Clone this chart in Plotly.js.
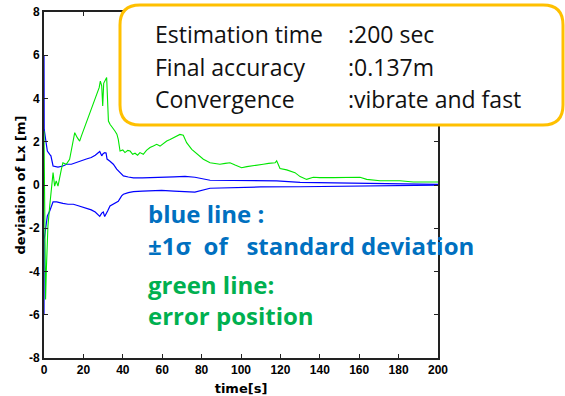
<!DOCTYPE html>
<html>
<head>
<meta charset="utf-8">
<script src="https://cdn.plot.ly/plotly-3.0.1.min.js"></script>
<style>html,body{margin:0;padding:0;background:#fff;}#chart{width:565px;height:396px;}</style>
</head>
<body>
<div id="chart"></div>
<script>
// ---- data ----
const errTime = [0, 0.4, 0.8, 1.2, 2.0, 2.9, 3.7, 4.6, 5.4, 6.2, 7.1, 8.0, 8.8, 9.6, 11.3, 13.0, 13.9, 15.6, 16.9, 18.1, 19.0, 21.5, 24, 26, 28, 28.6, 29.3, 29.8, 30.3, 31.8, 32.7, 33.5, 34.5, 36, 37.0, 37.7, 38.6, 40, 41.1, 42.5, 43.7, 45, 46.2, 47.5, 48.7, 50.4, 52, 53.8, 55.5, 57.2, 58.9, 60.5, 62.3, 64, 65.5, 67.3, 69, 70.7, 72.4, 75, 77, 79.2, 80.9, 84.3, 87, 89.3, 92, 94.4, 97, 100.3, 103, 106.2, 109, 111.3, 114, 117.3, 118.1, 119.8, 123.2, 127.4, 130, 133.3, 136.7, 140, 146.8, 155, 160.4, 163.8, 170.6, 180.7, 187.5, 200];
const errPos  = [2.5, -1.0, -5.3, -3.9, -1.9, -0.97, -0.05, 0.57, -0.05, 0.19, -0.05, 0.42, 0.72, 1.03, 0.96, 1.19, 1.65, 2.42, 2.19, 2.03, 2.27, 2.9, 3.5, 4.0, 4.5, 4.8, 4.58, 3.65, 4.7, 4.97, 2.96, 2.81, 2.7, 2.5, 2.35, 2.11, 1.57, 1.62, 1.5, 1.6, 1.57, 1.42, 1.47, 1.38, 1.5, 1.42, 1.6, 1.73, 1.8, 1.88, 1.8, 1.92, 2.03, 2.1, 2.18, 2.27, 2.34, 2.3, 1.96, 1.65, 1.5, 1.34, 1.19, 1.03, 0.98, 0.96, 1.0, 1.03, 0.92, 0.8, 0.85, 0.88, 0.92, 0.96, 1.0, 1.03, 1.12, 0.76, 0.7, 0.57, 0.39, 0.26, 0.36, 0.34, 0.34, 0.35, 0.36, 0.26, 0.2, 0.2, 0.14, 0.14];

const upTime  = [0, 0.1, 1.0, 1.7, 2.9, 3.5, 4.6, 5.5, 7.1, 9.6, 11.5, 13.9, 16.5, 19, 21.5, 24, 26, 28.3, 29.3, 30.0, 30.8, 31.5, 32.0, 33.5, 35.2, 36.9, 37.7, 39.4, 40.3, 42.8, 45.4, 50, 55, 59.7, 62, 66, 71.6, 76.6, 84.3, 95, 110, 118.1, 130, 140, 150, 163.8, 175, 190, 200];
const sigmaUp = [6.0, 2.57, 2.0, 1.57, 1.42, 1.35, 0.88, 0.85, 0.83, 0.88, 0.96, 0.96, 1.05, 1.11, 1.2, 1.27, 1.38, 1.55, 1.35, 1.45, 1.5, 1.48, 1.2, 1.1, 0.96, 0.73, 0.65, 0.49, 0.42, 0.37, 0.33, 0.33, 0.34, 0.34, 0.37, 0.38, 0.4, 0.36, 0.22, 0.2, 0.19, 0.19, 0.12, 0.11, 0.09, 0.06, 0.05, 0.04, 0.03];

const loTime  = [0, 0.1, 1.0, 1.7, 2.9, 3.9, 4.6, 6.4, 7.1, 9.6, 12.2, 14.9, 17, 19, 21.5, 24, 26, 28.3, 29.3, 30.1, 30.8, 31.5, 32.3, 33.5, 35.2, 36, 37.7, 39.4, 40.3, 42.8, 45.4, 50, 59.7, 66, 71.6, 76.6, 84.3, 95, 110, 130, 140, 163.8, 180, 200];
const sigmaLo = [-6.0, -2.5, -1.9, -1.43, -1.2, -0.95, -0.78, -0.78, -0.8, -0.85, -0.89, -0.89, -0.95, -1.01, -1.08, -1.15, -1.25, -1.45, -1.3, -1.25, -1.46, -1.36, -1.2, -0.97, -0.89, -0.83, -0.75, -0.5, -0.43, -0.35, -0.31, -0.28, -0.25, -0.28, -0.3, -0.33, -0.15, -0.12, -0.09, -0.08, -0.07, -0.05, -0.03, -0.01];

const xTicks = [0, 20, 40, 60, 80, 100, 120, 140, 160, 180, 200];
const yTicks = [-8, -6, -4, -2, 0, 2, 4, 6, 8];

const infoLabels = ["Estimation time", "Final accuracy", "Convergence"];
const infoValues = [":200 sec", ":0.137m", ":vibrate and fast"];
const noteLines = ["blue line :", "\u00b11\u03c3  of   standard deviation", "green line:", "error position"];
const noteColors = ["#0070C0", "#0070C0", "#00B050", "#00B050"];

// ---- layout helpers (pixel -> paper) ----
const W = 565, H = 396, ML = 44, MR = 127, MT = 12, MB = 38;
const PW = W - ML - MR, PH = H - MT - MB;
const px = x => (x - ML) / PW;
const py = y => (H - MB - y) / PH;

const traces = [
  {x: upTime, y: sigmaUp, mode: 'lines', line: {color: '#0000ff', width: 1.2}, hoverinfo: 'skip'},
  {x: loTime, y: sigmaLo, mode: 'lines', line: {color: '#0000ff', width: 1.2}, hoverinfo: 'skip'},
  {x: errTime, y: errPos, mode: 'lines', line: {color: '#00e600', width: 1.1}, hoverinfo: 'skip'}
];

// rounded box
const bx0 = px(120), bx1 = px(563), by0 = py(5), by1 = py(125);
const rx = 20 / PW, ry = 20 / PH;
const boxPath = `M ${bx0 + rx},${by0} L ${bx1 - rx},${by0} Q ${bx1},${by0} ${bx1},${by0 - ry} ` +
  `L ${bx1},${by1 + ry} Q ${bx1},${by1} ${bx1 - rx},${by1} L ${bx0 + rx},${by1} ` +
  `Q ${bx0},${by1} ${bx0},${by1 + ry} L ${bx0},${by0 - ry} Q ${bx0},${by0} ${bx0 + rx},${by0} Z`;

const annotations = [];
const infoY = [34, 67, 99];
const boxFont = {family: '"Open Sans", Lato, sans-serif', size: 23, color: '#111'};
infoLabels.forEach((t, i) => {
  annotations.push({xref: 'paper', yref: 'paper', x: px(153), y: py(infoY[i]), xanchor: 'left', yanchor: 'middle',
    text: t, showarrow: false, font: boxFont});
  annotations.push({xref: 'paper', yref: 'paper', x: px(346), y: py(infoY[i]), xanchor: 'left', yanchor: 'middle',
    text: infoValues[i], showarrow: false, font: boxFont});
});
const noteY = [213, 245, 284, 315];
noteLines.forEach((t, i) => {
  annotations.push({xref: 'paper', yref: 'paper', x: px(146), y: py(noteY[i]), xanchor: 'left', yanchor: 'middle',
    text: t, showarrow: false, font: {family: '"Open Sans", Lato, sans-serif', size: 24, weight: 'bold', color: noteColors[i]}});
});

const axisCommon = {
  showgrid: false, zeroline: false, showline: true, linecolor: '#222', linewidth: 2,
  mirror: 'ticks', ticks: 'inside', ticklen: 4, tickwidth: 1, tickcolor: '#222',
  tickfont: {family: '"Liberation Sans", Arial, sans-serif', size: 12, weight: 'bold', color: '#000'}
};
const titleFont = {family: '"DejaVu Sans", sans-serif', size: 13, weight: 'bold', color: '#000'};

const layout = {
  width: W, height: H,
  margin: {l: ML, r: MR, t: MT, b: MB, pad: 0},
  paper_bgcolor: '#fff', plot_bgcolor: '#fff',
  showlegend: false,
  xaxis: Object.assign({}, axisCommon, {
    range: [0, 200], tickvals: xTicks, ticktext: xTicks.map(String),
    title: {text: 'time[s]', standoff: 8, font: titleFont}
  }),
  yaxis: Object.assign({}, axisCommon, {
    range: [-8, 8], tickvals: yTicks, ticktext: yTicks.map(String),
    title: {text: 'deviation of Lx [m]', standoff: 0, font: titleFont}
  }),
  shapes: [{type: 'path', xref: 'paper', yref: 'paper', path: boxPath, layer: 'above',
    line: {color: '#FFC000', width: 3}, fillcolor: '#ffffff'}],
  annotations: annotations
};

Plotly.newPlot('chart', traces, layout, {displayModeBar: false, staticPlot: true});
</script>
</body>
</html>
